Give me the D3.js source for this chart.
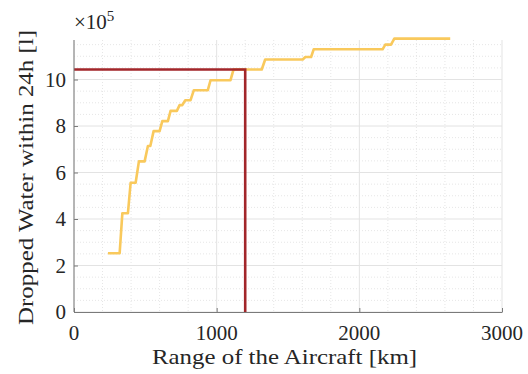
<!DOCTYPE html>
<meta charset="utf-8">
<title>Dropped water vs range</title>
<style>
  body { margin: 0; background: #fff; }
  svg text { font-family: "Times New Roman", "Liberation Serif", Times, serif; fill: #262626; }
  .grid-major line { stroke: #e3e3e3; stroke-width: 1; }
  .grid-minor line { stroke: #e6e6e6; stroke-width: 1; stroke-dasharray: 1,2; }
  .axis path, .axis line { stroke: #7a7a7a; }
</style>
<body>
<script src="https://cdn.jsdelivr.net/npm/d3@7"></script>
<script>
  // range of the aircraft [km] and water dropped in 24h [x 10^5 l]
  var rangeKm = [238, 320, 339, 378, 397, 432, 455, 495, 518, 535, 558, 600, 619, 658,
                 677, 721, 740, 759, 780, 817, 840, 938, 957, 1097, 1118, 1316, 1340,
                 1603, 1622, 1662, 1680, 2163, 2182, 2222, 2245, 2637];
  var water = [2.53, 2.53, 4.25, 4.25, 5.56, 5.56, 6.48, 6.48, 7.14, 7.14, 7.78, 7.78,
               8.21, 8.21, 8.65, 8.65, 8.90, 8.90, 9.11, 9.11, 9.54, 9.54, 9.97, 9.97,
               10.43, 10.43, 10.86, 10.86, 10.97, 10.97, 11.30, 11.30, 11.50, 11.50,
               11.76, 11.76];

  // chosen design point
  var chosenRange = 1200, chosenWater = 10.43;

  var xTicks = [0, 1000, 2000, 3000];
  var yTicks = [0, 2, 4, 6, 8, 10];

  var W = 528, H = 374;
  var plotL = 74, plotR = 502, plotT = 40, plotB = 312;

  var svg = d3.select("body").append("svg")
      .attr("width", W)
      .attr("height", H);

  var x = d3.scaleLinear().domain([0, 3000]).range([plotL, plotR]);
  var y = d3.scaleLinear().domain([0, 11.7]).range([plotB, plotT]);

  // minor grid
  var xMinor = d3.range(0, 3001, 200).filter(function(v) { return v % 1000 !== 0; });
  var yMinor = d3.range(0, 11.7, 0.5).filter(function(v) { return v % 2 !== 0; });

  var gMinor = svg.append("g").attr("class", "grid-minor");
  gMinor.selectAll(".vx").data(xMinor).enter().append("line")
      .attr("x1", function(d) { return x(d); }).attr("x2", function(d) { return x(d); })
      .attr("y1", plotT).attr("y2", plotB);
  gMinor.selectAll(".hy").data(yMinor).enter().append("line")
      .attr("x1", plotL).attr("x2", plotR)
      .attr("y1", function(d) { return y(d); }).attr("y2", function(d) { return y(d); });

  // major grid
  var gMajor = svg.append("g").attr("class", "grid-major");
  gMajor.selectAll(".vx").data(xTicks).enter().append("line")
      .attr("x1", function(d) { return x(d); }).attr("x2", function(d) { return x(d); })
      .attr("y1", plotT).attr("y2", plotB);
  gMajor.selectAll(".hy").data(yTicks).enter().append("line")
      .attr("x1", plotL).attr("x2", plotR)
      .attr("y1", function(d) { return y(d); }).attr("y2", function(d) { return y(d); });

  // data line
  var pts = rangeKm.map(function(r, i) { return [r, water[i]]; });
  svg.append("path")
      .datum(pts)
      .attr("fill", "none")
      .attr("stroke", "#f9c95c")
      .attr("stroke-width", 2.6)
      .attr("stroke-linejoin", "round")
      .attr("d", d3.line().x(function(d) { return x(d[0]); }).y(function(d) { return y(d[1]); }));

  // design point lines
  svg.append("path")
      .datum([[0, chosenWater], [chosenRange, chosenWater], [chosenRange, 0]])
      .attr("fill", "none")
      .attr("stroke", "#a2262a")
      .attr("stroke-width", 2.6)
      .attr("d", d3.line().x(function(d) { return x(d[0]); }).y(function(d) { return y(d[1]); }));

  // axes, ticks pointing inward
  var xAxis = svg.append("g").attr("class", "axis")
      .attr("transform", "translate(0," + plotB + ")")
      .call(d3.axisTop(x).tickValues(xTicks).tickSizeInner(4).tickSizeOuter(0).tickFormat(""));
  xAxis.selectAll("text").remove();

  var yAxis = svg.append("g").attr("class", "axis")
      .attr("transform", "translate(" + plotL + ",0)")
      .call(d3.axisRight(y).tickValues(yTicks).tickSizeInner(4).tickSizeOuter(0).tickFormat(""));
  yAxis.select(".domain").attr("d", "M0," + plotB + "V" + plotT);
  yAxis.selectAll("text").remove();

  // d3 axes set font-family="sans-serif" on their groups; labels live outside them
  // tick labels
  var labels = svg.append("g").attr("class", "labels");

  labels.append("g").selectAll("text").data(xTicks).enter().append("text")
      .attr("x", function(d) { return x(d); })
      .attr("y", 340)
      .attr("text-anchor", "middle")
      .style("font-size", "21px")
      .text(function(d) { return d; });

  labels.append("g").selectAll("text").data(yTicks).enter().append("text")
      .attr("x", 66)
      .attr("y", function(d) { return y(d); })
      .attr("dy", "0.34em")
      .attr("text-anchor", "end")
      .style("font-size", "21px")
      .text(function(d) { return d; });

  // exponent
  var ex = labels.append("text")
      .attr("x", 74)
      .attr("y", 29)
      .style("font-size", "21px");
  ex.append("tspan").text("\u00d710");
  ex.append("tspan").attr("dy", -8).style("font-size", "15px").text("5");

  // axis labels
  labels.append("text")
      .attr("x", 152)
      .attr("y", 364)
      .attr("textLength", 265)
      .attr("lengthAdjust", "spacingAndGlyphs")
      .style("font-size", "22px")
      .text("Range of the Aircraft [km]");

  labels.append("text")
      .attr("transform", "translate(33,325) rotate(-90)")
      .attr("textLength", 295)
      .attr("lengthAdjust", "spacingAndGlyphs")
      .style("font-size", "22px")
      .text("Dropped Water within 24h [l]");
</script>
</body>
